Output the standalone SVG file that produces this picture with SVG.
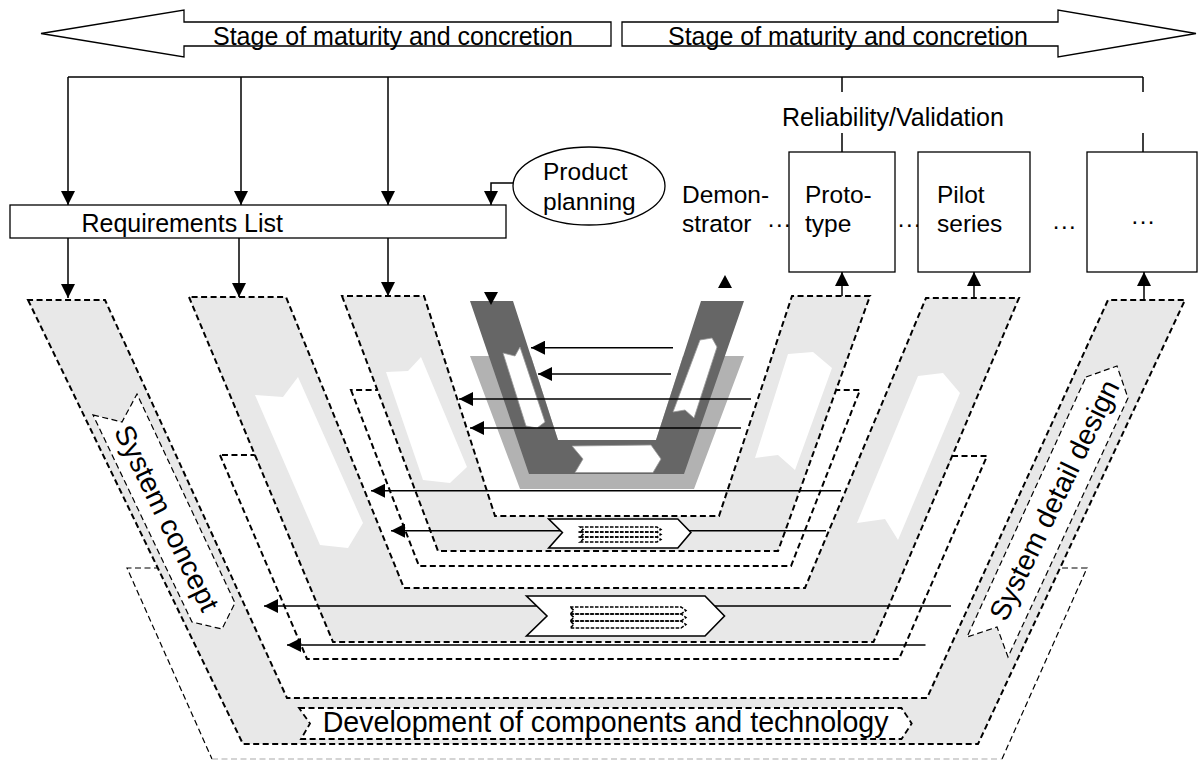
<svg xmlns="http://www.w3.org/2000/svg" width="1200" height="760" viewBox="0 0 1200 760">
  <style>
    .txt { font-family: "Liberation Sans", Arial, sans-serif; fill: #000; }
    .band { fill: #e8e8e8; stroke: #000; stroke-width: 2; stroke-dasharray: 6 3.5; }
    .shadow { fill: #fff; stroke: #000; stroke-width: 2; stroke-dasharray: 6 3.5; }
    .thin { fill: #fff; stroke: #000; stroke-width: 1.2; stroke-dasharray: 6 3.5; }
    .label { fill: #fff; stroke: #000; stroke-width: 1.8; stroke-dasharray: 6 3.5; }
    .box { fill: #fff; stroke: #000; stroke-width: 1.3; }
    .conn { fill: none; stroke: #000; stroke-width: 1.5; }
    .flow { fill: none; stroke: #000; stroke-width: 1.6; }
    .hole { fill: #fff; stroke: none; }
    .chev { fill: #fff; stroke: #000; stroke-width: 1.6; }
    .mini { fill: none; stroke: #000; stroke-width: 1.5; stroke-dasharray: 3.5 1.5; }
  </style>
  <defs>
    <marker id="ah" viewBox="0 0 14 14" refX="14" refY="7" markerWidth="14" markerHeight="14" markerUnits="userSpaceOnUse" orient="auto">
      <path d="M0,0 L14,7 L0,14 z" fill="#000"/>
    </marker>
  </defs>
  <rect width="1200" height="760" fill="#fff"/>

  <!-- maturity arrows -->
  <g id="maturity-left">
    <polygon class="box" points="41,33.5 184,10 184,22 611,22 611,46 184,46 184,57"/>
    <text class="txt" x="213" y="45" font-size="25">Stage of maturity and concretion</text>
  </g>
  <g id="maturity-right">
    <polygon class="box" points="622,22 1058,22 1058,10 1196,33.5 1058,57 1058,46 622,46"/>
    <text class="txt" x="668" y="45" font-size="25">Stage of maturity and concretion</text>
  </g>

  <!-- outline of the next cycle, behind the outer band -->
  <g id="outer-next">
    <polygon fill="#fff" points="127,568 212,759 1002,759 1087,568 1050,568 960,740 260,740 160,568"/>
    <path d="M160,568 H127 L212,759 M1002,759 L1087,568 H1050" fill="none" stroke="#000" stroke-width="1.2" stroke-dasharray="6 3.5"/>
    <path d="M212,759 H1002" fill="none" stroke="#aaa" stroke-width="1.2" stroke-dasharray="6 3.5"/>
  </g>

  <!-- outer band: system level -->
  <g id="band-outer">
    <polygon class="band" points="28,300 243,744 978,744 1185,300 1108,300 927,698 287,698 105,300"/>
  </g>

  <!-- middle band with its next-cycle outline -->
  <g id="band-middle">
    <polygon class="shadow" points="220,455 307,659 899,659 987,456 952,456 860,620 350,620 255,455"/>
    <polygon class="band" points="189,297 333,642 873.5,642 1019,298 926,298 805,588 404,588 286,297"/>
    <polygon class="hole" points="255,395 283,397 298,377 363,523 348,548 320,545"/>
    <polygon class="hole" points="918,376 943,373 960,393 898,540 885,519 857,523"/>
  </g>

  <!-- inner band with its next-cycle outline -->
  <g id="band-inner">
    <polygon class="shadow" points="351,390 419,566 791,566 860,390 834,390 750,540 460,540 379,390"/>
    <polygon class="band" points="342,296 438,551 778,551 870,296 792,296 719,516 495,516 424,296"/>
    <polygon class="hole" points="386,372 408,371 421,357 467,467 450,483 423,480"/>
    <polygon class="hole" points="788,354 813,352 832,368 795,470 778,455 755,458"/>
  </g>

  <!-- demonstrator cycle -->
  <g id="demonstrator-v">
    <polygon fill="#b2b2b2" points="470,356 520,489 694,489 744,356 683,356 656,440 558,440 531,356"/>
    <polygon fill="#666" points="470,301 529,474 684,474 744,301 701,301 656,440 558,440 513,301"/>
    <polygon fill="#fff" stroke="#999" stroke-width="0.8" points="503,353 515,356 520,347 545,422 537,428 526,426"/>
    <polygon fill="#fff" stroke="#999" stroke-width="0.8" points="700,340 712,338 717,347 694,418 685,410 673,412"/>
    <polygon fill="#fff" stroke="#999" stroke-width="0.8" points="572,446 651,445 661,459 653,472.5 575,472.5 583,459"/>
    <polygon fill="#000" points="484,292 498,292 491,305"/>
    <polygon fill="#000" points="718,288 732,288 725,275"/>
  </g>

  <!-- connectors -->
  <g id="connectors">
    <path class="conn" d="M68,77 H1143"/>
    <path class="conn" d="M68,77 V205" marker-end="url(#ah)"/>
    <path class="conn" d="M241,77 V205" marker-end="url(#ah)"/>
    <path class="conn" d="M388,77 V205" marker-end="url(#ah)"/>
    <path class="conn" d="M842,77 V92 M842,133 V152 M1143,77 V92 M1143,133 V152"/>
    <path class="conn" d="M513,183 H491 V205" marker-end="url(#ah)"/>
    <path class="conn" d="M68,238 V298" marker-end="url(#ah)"/>
    <path class="conn" d="M239,238 V297" marker-end="url(#ah)"/>
    <path class="conn" d="M388,238 V296" marker-end="url(#ah)"/>
    <path class="conn" d="M842,296 V272" marker-end="url(#ah)"/>
    <path class="conn" d="M974,298 V272" marker-end="url(#ah)"/>
    <path class="conn" d="M1144,300 V272" marker-end="url(#ah)"/>
    <!-- feedback of the cycles -->
    <path class="flow" d="M673,347.7 H531" marker-end="url(#ah)"/>
    <path class="flow" d="M671,374 H538" marker-end="url(#ah)"/>
    <path class="flow" d="M751,399 H459" marker-end="url(#ah)"/>
    <path class="flow" d="M741,428 H470" marker-end="url(#ah)"/>
    <path class="flow" d="M841,490.7 H371" marker-end="url(#ah)"/>
    <path class="flow" d="M826,530.7 H391" marker-end="url(#ah)"/>
    <path class="flow" d="M951,606 H264" marker-end="url(#ah)"/>
    <path class="flow" d="M925.5,645 H287" marker-end="url(#ah)"/>
  </g>

  <!-- integration chevrons -->
  <g id="chevron-small">
    <polygon class="chev" points="548.7,519 677.8,519 690.9,532.5 677.8,548 548.7,548 562.4,532.5"/>
    <polygon class="mini" points="580,527 657,527 661,529.5 657,532 580,532 583,529.5"/>
    <polygon class="mini" points="580,532 657,532 661,534.5 657,537 580,537 583,534.5"/>
    <polygon class="mini" points="580,537 657,537 661,539.5 657,542 580,542 583,539.5"/>
  </g>
  <g id="chevron-large">
    <polygon class="chev" points="526.5,596 705,596 724.5,616 705,636 526.5,636 547,616"/>
    <polygon class="mini" points="570,607 681,607 686,610.5 681,614 570,614 574,610.5"/>
    <polygon class="mini" points="570,614 681,614 686,617.5 681,621 570,621 574,617.5"/>
    <polygon class="mini" points="570,621 681,621 686,624.5 681,628 570,628 574,624.5"/>
  </g>

  <!-- band labels -->
  <g id="system-concept">
    <polygon class="thin" points="93,415 122,422 137,394 235,603 222,629 192,622"/>
    <text class="txt" font-size="28.5" text-anchor="middle" dy="0.35em" transform="translate(167,518) rotate(64)">System concept</text>
  </g>
  <g id="system-detail-design">
    <polygon class="thin" points="1086,377 1117,366 1128,398 1008,657 997,627 967,637"/>
    <text class="txt" font-size="28.5" text-anchor="middle" dy="0.35em" transform="translate(1054,500) rotate(-64.3)">System detail design</text>
  </g>
  <g id="components">
    <polygon class="label" points="299,708 901.5,708 911.7,723.5 901.5,739 301,739 310,723.5"/>
    <text class="txt" x="605.6" y="732" font-size="28.6" text-anchor="middle">Development of components and technology</text>
  </g>

  <!-- requirements and planning -->
  <g id="requirements-list">
    <rect class="box" x="10" y="205" width="496" height="33"/>
    <text class="txt" x="81.5" y="232" font-size="25">Requirements List</text>
  </g>
  <g id="product-planning">
    <ellipse class="box" cx="589" cy="186" rx="76" ry="39"/>
    <text class="txt" x="543" y="180" font-size="24.5">Product</text>
    <text class="txt" x="543" y="210" font-size="24.5">planning</text>
  </g>

  <!-- validation objects -->
  <g id="reliability-label">
    <text class="txt" x="782" y="126" font-size="25">Reliability/Validation</text>
  </g>
  <g id="demonstrator">
    <text class="txt" x="682" y="203" font-size="24.5">Demon-</text>
    <text class="txt" x="682" y="232" font-size="24.5">strator</text>
    <text class="txt" x="767" y="232" font-size="24.5">···</text>
  </g>
  <g id="prototype">
    <rect class="box" x="789" y="152" width="106" height="120"/>
    <text class="txt" x="805" y="203" font-size="24.5">Proto-</text>
    <text class="txt" x="805" y="232" font-size="24.5">type</text>
    <text class="txt" x="897" y="232" font-size="24.5">···</text>
  </g>
  <g id="pilot-series">
    <rect class="box" x="918" y="152" width="112" height="120"/>
    <text class="txt" x="937" y="203" font-size="24.5">Pilot</text>
    <text class="txt" x="937" y="232" font-size="24.5">series</text>
    <text class="txt" x="1052" y="234" font-size="24.5">···</text>
  </g>
  <g id="further-objects">
    <rect class="box" x="1087" y="152" width="110" height="120"/>
    <text class="txt" x="1143" y="229" font-size="24.5" text-anchor="middle">···</text>
  </g>
</svg>
